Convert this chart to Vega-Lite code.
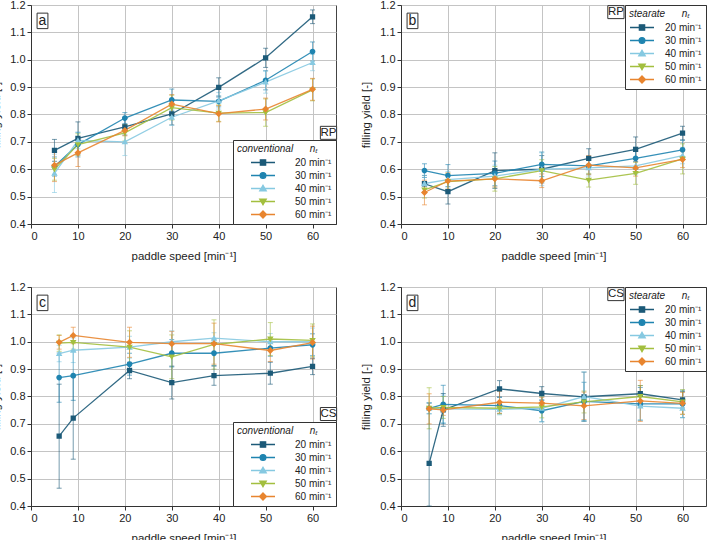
{
 "$schema": "https://vega.github.io/schema/vega-lite/v6.json",
 "padding": {"left": -10, "top": -2, "right": 0, "bottom": 0},
 "datasets": {
  "d": [
   {"p":"a","n":"20","x":5,"y":0.669,"e":0.04},{"p":"a","n":"20","x":10,"y":0.713,"e":0.06},{"p":"a","n":"20","x":20,"y":0.755,"e":0.03},{"p":"a","n":"20","x":30,"y":0.802,"e":0.04},{"p":"a","n":"20","x":40,"y":0.899,"e":0.035},{"p":"a","n":"20","x":50,"y":1.007,"e":0.035},{"p":"a","n":"20","x":60,"y":1.157,"e":0.025},
   {"p":"a","n":"30","x":5,"y":0.61,"e":0.035},{"p":"a","n":"30","x":10,"y":0.69,"e":0.045},{"p":"a","n":"30","x":20,"y":0.787,"e":0.02},{"p":"a","n":"30","x":30,"y":0.853,"e":0.04},{"p":"a","n":"30","x":40,"y":0.848,"e":0.02},{"p":"a","n":"30","x":50,"y":0.925,"e":0.035},{"p":"a","n":"30","x":60,"y":1.03,"e":0.035},
   {"p":"a","n":"40","x":5,"y":0.585,"e":0.07},{"p":"a","n":"40","x":10,"y":0.705,"e":0.03},{"p":"a","n":"40","x":20,"y":0.70,"e":0.05},{"p":"a","n":"40","x":30,"y":0.79,"e":0.03},{"p":"a","n":"40","x":40,"y":0.85,"e":0.03},{"p":"a","n":"40","x":50,"y":0.918,"e":0.04},{"p":"a","n":"40","x":60,"y":0.99,"e":0.03},
   {"p":"a","n":"50","x":5,"y":0.60,"e":0.04},{"p":"a","n":"50","x":10,"y":0.69,"e":0.04},{"p":"a","n":"50","x":20,"y":0.733,"e":0.03},{"p":"a","n":"50","x":30,"y":0.825,"e":0.045},{"p":"a","n":"50","x":40,"y":0.805,"e":0.03},{"p":"a","n":"50","x":50,"y":0.807,"e":0.05},{"p":"a","n":"50","x":60,"y":0.89,"e":0.04},
   {"p":"a","n":"60","x":5,"y":0.615,"e":0.06},{"p":"a","n":"60","x":10,"y":0.66,"e":0.05},{"p":"a","n":"60","x":20,"y":0.742,"e":0.02},{"p":"a","n":"60","x":30,"y":0.838,"e":0.035},{"p":"a","n":"60","x":40,"y":0.803,"e":0.03},{"p":"a","n":"60","x":50,"y":0.82,"e":0.04},{"p":"a","n":"60","x":60,"y":0.892,"e":0.04},

   {"p":"b","n":"20","x":5,"y":0.547,"e":0.03},{"p":"b","n":"20","x":10,"y":0.518,"e":0.045},{"p":"b","n":"20","x":20,"y":0.595,"e":0.065},{"p":"b","n":"20","x":30,"y":0.60,"e":0.05},{"p":"b","n":"20","x":40,"y":0.64,"e":0.035},{"p":"b","n":"20","x":50,"y":0.673,"e":0.045},{"p":"b","n":"20","x":60,"y":0.732,"e":0.025},
   {"p":"b","n":"30","x":5,"y":0.595,"e":0.025},{"p":"b","n":"30","x":10,"y":0.577,"e":0.04},{"p":"b","n":"30","x":20,"y":0.585,"e":0.045},{"p":"b","n":"30","x":30,"y":0.618,"e":0.045},{"p":"b","n":"30","x":40,"y":0.612,"e":0.03},{"p":"b","n":"30","x":50,"y":0.64,"e":0.04},{"p":"b","n":"30","x":60,"y":0.671,"e":0.035},
   {"p":"b","n":"40","x":5,"y":0.548,"e":0.03},{"p":"b","n":"40","x":10,"y":0.562,"e":0.03},{"p":"b","n":"40","x":20,"y":0.575,"e":0.04},{"p":"b","n":"40","x":30,"y":0.60,"e":0.06},{"p":"b","n":"40","x":40,"y":0.605,"e":0.03},{"p":"b","n":"40","x":50,"y":0.612,"e":0.03},{"p":"b","n":"40","x":60,"y":0.65,"e":0.03},
   {"p":"b","n":"50","x":5,"y":0.525,"e":0.03},{"p":"b","n":"50","x":10,"y":0.555,"e":0.03},{"p":"b","n":"50","x":20,"y":0.565,"e":0.045},{"p":"b","n":"50","x":30,"y":0.595,"e":0.04},{"p":"b","n":"50","x":40,"y":0.56,"e":0.025},{"p":"b","n":"50","x":50,"y":0.585,"e":0.04},{"p":"b","n":"50","x":60,"y":0.638,"e":0.055},
   {"p":"b","n":"60","x":5,"y":0.515,"e":0.045},{"p":"b","n":"60","x":10,"y":0.557,"e":0.03},{"p":"b","n":"60","x":20,"y":0.565,"e":0.03},{"p":"b","n":"60","x":30,"y":0.558,"e":0.025},{"p":"b","n":"60","x":40,"y":0.615,"e":0.035},{"p":"b","n":"60","x":50,"y":0.605,"e":0.03},{"p":"b","n":"60","x":60,"y":0.636,"e":0.03},

   {"p":"c","n":"20","x":6,"y":0.655,"e":0.19},{"p":"c","n":"20","x":9,"y":0.721,"e":0.15},{"p":"c","n":"20","x":21,"y":0.895,"e":0.03},{"p":"c","n":"20","x":30,"y":0.851,"e":0.06},{"p":"c","n":"20","x":39,"y":0.876,"e":0.035},{"p":"c","n":"20","x":51,"y":0.885,"e":0.04},{"p":"c","n":"20","x":60,"y":0.91,"e":0.03},
   {"p":"c","n":"30","x":6,"y":0.869,"e":0.09},{"p":"c","n":"30","x":9,"y":0.876,"e":0.09},{"p":"c","n":"30","x":21,"y":0.918,"e":0.04},{"p":"c","n":"30","x":30,"y":0.958,"e":0.05},{"p":"c","n":"30","x":39,"y":0.958,"e":0.045},{"p":"c","n":"30","x":51,"y":0.977,"e":0.03},{"p":"c","n":"30","x":60,"y":0.989,"e":0.04},
   {"p":"c","n":"40","x":6,"y":0.957,"e":0.03},{"p":"c","n":"40","x":9,"y":0.969,"e":0.045},{"p":"c","n":"40","x":21,"y":0.98,"e":0.04},{"p":"c","n":"40","x":30,"y":1.0,"e":0.04},{"p":"c","n":"40","x":39,"y":1.013,"e":0.02},{"p":"c","n":"40","x":51,"y":1.0,"e":0.03},{"p":"c","n":"40","x":60,"y":1.0,"e":0.05},
   {"p":"c","n":"50","x":6,"y":0.995,"e":0.03},{"p":"c","n":"50","x":9,"y":0.998,"e":0.025},{"p":"c","n":"50","x":21,"y":0.98,"e":0.06},{"p":"c","n":"50","x":30,"y":0.945,"e":0.08},{"p":"c","n":"50","x":39,"y":0.99,"e":0.09},{"p":"c","n":"50","x":51,"y":1.01,"e":0.06},{"p":"c","n":"50","x":60,"y":1.005,"e":0.06},
   {"p":"c","n":"60","x":6,"y":0.998,"e":0.025},{"p":"c","n":"60","x":9,"y":1.023,"e":0.03},{"p":"c","n":"60","x":21,"y":0.998,"e":0.055},{"p":"c","n":"60","x":30,"y":0.993,"e":0.045},{"p":"c","n":"60","x":39,"y":0.993,"e":0.075},{"p":"c","n":"60","x":51,"y":0.968,"e":0.04},{"p":"c","n":"60","x":60,"y":0.997,"e":0.06},

   {"p":"d","n":"20","x":6,"y":0.556,"e":0.22},{"p":"d","n":"20","x":9,"y":0.751,"e":0.06},{"p":"d","n":"20","x":21,"y":0.828,"e":0.03},{"p":"d","n":"20","x":30,"y":0.811,"e":0.025},{"p":"d","n":"20","x":39,"y":0.799,"e":0.09},{"p":"d","n":"20","x":51,"y":0.81,"e":0.03},{"p":"d","n":"20","x":60,"y":0.788,"e":0.03},
   {"p":"d","n":"30","x":6,"y":0.757,"e":0.02},{"p":"d","n":"30","x":9,"y":0.771,"e":0.07},{"p":"d","n":"30","x":21,"y":0.767,"e":0.03},{"p":"d","n":"30","x":30,"y":0.748,"e":0.04},{"p":"d","n":"30","x":39,"y":0.782,"e":0.07},{"p":"d","n":"30","x":51,"y":0.773,"e":0.06},{"p":"d","n":"30","x":60,"y":0.773,"e":0.05},
   {"p":"d","n":"40","x":6,"y":0.757,"e":0.02},{"p":"d","n":"40","x":9,"y":0.755,"e":0.05},{"p":"d","n":"40","x":21,"y":0.753,"e":0.02},{"p":"d","n":"40","x":30,"y":0.757,"e":0.05},{"p":"d","n":"40","x":39,"y":0.80,"e":0.09},{"p":"d","n":"40","x":51,"y":0.765,"e":0.05},{"p":"d","n":"40","x":60,"y":0.757,"e":0.035},
   {"p":"d","n":"50","x":6,"y":0.757,"e":0.075},{"p":"d","n":"50","x":9,"y":0.76,"e":0.04},{"p":"d","n":"50","x":21,"y":0.757,"e":0.02},{"p":"d","n":"50","x":30,"y":0.762,"e":0.04},{"p":"d","n":"50","x":39,"y":0.78,"e":0.04},{"p":"d","n":"50","x":51,"y":0.80,"e":0.04},{"p":"d","n":"50","x":60,"y":0.78,"e":0.045},
   {"p":"d","n":"60","x":6,"y":0.755,"e":0.055},{"p":"d","n":"60","x":9,"y":0.751,"e":0.02},{"p":"d","n":"60","x":21,"y":0.779,"e":0.04},{"p":"d","n":"60","x":30,"y":0.776,"e":0.02},{"p":"d","n":"60","x":39,"y":0.766,"e":0.05},{"p":"d","n":"60","x":51,"y":0.784,"e":0.075},{"p":"d","n":"60","x":60,"y":0.775,"e":0.04}
  ],
  "notes": [
   {"p":"a","t":"a","k":"panel","x":2.45,"y":1.142},{"p":"a","t":"RP","k":"tag","x":63.4,"y":0.733},
   {"p":"b","t":"b","k":"panel","x":2.45,"y":1.142},{"p":"b","t":"RP","k":"tag","x":45.8,"y":1.174},
   {"p":"c","t":"c","k":"panel","x":2.45,"y":1.142},{"p":"c","t":"CS","k":"tag","x":63.4,"y":0.736},
   {"p":"d","t":"d","k":"panel","x":2.45,"y":1.142},{"p":"d","t":"CS","k":"tag","x":45.8,"y":1.174}
  ]
 },
 "data": {"name": "d"},
 "columns": 2,
 "spacing": {"row": 63, "column": 65},
 "bounds": "flush",
 "resolve": {"scale": {"color": "independent", "shape": "independent"}},
 "concat": [
  {
   "width": 305, "height": 219,
   "transform": [{"filter": "datum.p === 'a'"}],
   "resolve": {"axis": {"x": "independent", "y": "independent"}},
   "layer": [
    {"mark": {"type": "errorbar", "ticks": {"size": 5}, "opacity": 0.6, "thickness": 1},
     "encoding": {
      "x": {"field": "x", "type": "quantitative", "scale": {"domain": [0, 65], "nice": false}, "axis": {"values": [0,10,20,30,40,50,60], "format": "d", "title": "paddle speed [min⁻¹]"}},
      "y": {"field": "y", "type": "quantitative", "scale": {"domain": [0.4, 1.2], "nice": false, "zero": false, "clamp": true}, "axis": {"values": [0.4,0.5,0.6,0.7,0.8,0.9,1.0,1.1,1.2], "format": ".1f", "title": "filling yield [-]"}},
      "yError": {"field": "e"},
      "color": {"field": "n", "type": "nominal", "scale": {"domain": ["20","30","40","50","60"], "range": ["#1c5a78","#1f84b0","#86c9e1","#a3bf3f","#e8852f"]},
       "legend": {"title": "conventional\u00a0\u00a0\u00a0\u00a0\u00a0\u00a0nₜ", "orient": "bottom-right", "symbolOffset": 13, "labelOffset": 19, "labelExpr": "datum.label + ' min⁻¹'"}}
     }},
    {"mark": {"type": "line", "strokeWidth": 1.3, "opacity": 0.9},
     "encoding": {
      "x": {"field": "x", "type": "quantitative", "axis": {"orient": "top", "values": [5,15,25,35,45,55,65], "labels": false, "ticks": false, "domain": false, "title": null, "gridDash": [1,2], "gridColor": "#b8b8b8"}},
      "y": {"field": "y", "type": "quantitative", "axis": {"orient": "right", "values": [0.45,0.55,0.65,0.75,0.85,0.95,1.05,1.15], "labels": false, "ticks": false, "domain": false, "title": null, "gridDash": [1,2], "gridColor": "#b8b8b8"}},
      "color": {"field": "n", "type": "nominal"}
     }},
    {"mark": {"type": "point", "filled": true, "size": 576, "opacity": 1},
     "encoding": {"x": {"field": "x", "type": "quantitative", "axis": null}, "y": {"field": "y", "type": "quantitative", "axis": null},
      "color": {"field": "n", "type": "nominal"},
      "shape": {"field": "n", "type": "nominal", "scale": {"domain": ["20","30","40","50","60"], "range": ["M-1,0H1M-0.22,-0.22H0.22V0.22H-0.22Z","M-1,0H1M0.24,0A0.24,0.24 0 1,1 -0.24,0A0.24,0.24 0 1,1 0.24,0Z","M-1,0H1M0,-0.27L0.27,0.2H-0.27Z","M-1,0H1M0,0.27L0.27,-0.2H-0.27Z","M-1,0H1M0,-0.29L0.29,0L0,0.29L-0.29,0Z"]},
       "legend": {"title": "conventional\u00a0\u00a0\u00a0\u00a0\u00a0\u00a0nₜ", "orient": "bottom-right", "symbolOffset": 13, "labelOffset": 19, "labelExpr": "datum.label + ' min⁻¹'"}}}},
    {"data": {"name": "notes"}, "transform": [{"filter": "datum.p === 'a' && datum.k === 'panel'"}],
     "mark": {"type": "point", "shape": "M-0.7,-1H0.7V1H-0.7Z", "size": 240, "filled": true, "opacity": 1, "fill": "white", "stroke": "#333", "strokeWidth": 1},
     "encoding": {"x": {"field": "x", "type": "quantitative", "axis": null}, "y": {"field": "y", "type": "quantitative", "axis": null}}},
    {"data": {"name": "notes"}, "transform": [{"filter": "datum.p === 'a' && datum.k === 'panel'"}],
     "mark": {"type": "text", "fontSize": 14, "color": "#222", "baseline": "middle"},
     "encoding": {"x": {"field": "x", "type": "quantitative", "axis": null}, "y": {"field": "y", "type": "quantitative", "axis": null}, "text": {"field": "t"}}},
    {"data": {"name": "notes"}, "transform": [{"filter": "datum.p === 'a' && datum.k === 'tag'"}],
     "mark": {"type": "point", "shape": "M-1.25,-1H1.25V1H-1.25Z", "size": 169, "filled": true, "opacity": 1, "fill": "white", "stroke": "#333", "strokeWidth": 1},
     "encoding": {"x": {"field": "x", "type": "quantitative", "axis": null}, "y": {"field": "y", "type": "quantitative", "axis": null}}},
    {"data": {"name": "notes"}, "transform": [{"filter": "datum.p === 'a' && datum.k === 'tag'"}],
     "mark": {"type": "text", "fontSize": 11.5, "color": "#222", "baseline": "middle"},
     "encoding": {"x": {"field": "x", "type": "quantitative", "axis": null}, "y": {"field": "y", "type": "quantitative", "axis": null}, "text": {"field": "t"}}}
   ]
  },
  {
   "width": 305, "height": 219,
   "transform": [{"filter": "datum.p === 'b'"}],
   "resolve": {"axis": {"x": "independent", "y": "independent"}},
   "layer": [
    {"mark": {"type": "errorbar", "ticks": {"size": 5}, "opacity": 0.6, "thickness": 1},
     "encoding": {
      "x": {"field": "x", "type": "quantitative", "scale": {"domain": [0, 65], "nice": false}, "axis": {"values": [0,10,20,30,40,50,60], "format": "d", "title": "paddle speed [min⁻¹]"}},
      "y": {"field": "y", "type": "quantitative", "scale": {"domain": [0.4, 1.2], "nice": false, "zero": false, "clamp": true}, "axis": {"values": [0.4,0.5,0.6,0.7,0.8,0.9,1.0,1.1,1.2], "format": ".1f", "title": "filling yield [-]"}},
      "yError": {"field": "e"},
      "color": {"field": "n", "type": "nominal", "scale": {"domain": ["20","30","40","50","60"], "range": ["#1c5a78","#1f84b0","#86c9e1","#a3bf3f","#e8852f"]},
       "legend": {"title": "stearate\u00a0\u00a0\u00a0\u00a0\u00a0\u00a0nₜ", "orient": "top-right", "symbolOffset": 0, "labelOffset": 10, "labelExpr": "datum.label + ' min⁻¹'"}}
     }},
    {"mark": {"type": "line", "strokeWidth": 1.3, "opacity": 0.9},
     "encoding": {
      "x": {"field": "x", "type": "quantitative", "axis": {"orient": "top", "values": [5,15,25,35,45,55,65], "labels": false, "ticks": false, "domain": false, "title": null, "gridDash": [1,2], "gridColor": "#b8b8b8"}},
      "y": {"field": "y", "type": "quantitative", "axis": {"orient": "right", "values": [0.45,0.55,0.65,0.75,0.85,0.95,1.05,1.15], "labels": false, "ticks": false, "domain": false, "title": null, "gridDash": [1,2], "gridColor": "#b8b8b8"}},
      "color": {"field": "n", "type": "nominal"}
     }},
    {"mark": {"type": "point", "filled": true, "size": 576, "opacity": 1},
     "encoding": {"x": {"field": "x", "type": "quantitative", "axis": null}, "y": {"field": "y", "type": "quantitative", "axis": null},
      "color": {"field": "n", "type": "nominal"},
      "shape": {"field": "n", "type": "nominal", "scale": {"domain": ["20","30","40","50","60"], "range": ["M-1,0H1M-0.22,-0.22H0.22V0.22H-0.22Z","M-1,0H1M0.24,0A0.24,0.24 0 1,1 -0.24,0A0.24,0.24 0 1,1 0.24,0Z","M-1,0H1M0,-0.27L0.27,0.2H-0.27Z","M-1,0H1M0,0.27L0.27,-0.2H-0.27Z","M-1,0H1M0,-0.29L0.29,0L0,0.29L-0.29,0Z"]},
       "legend": {"title": "stearate\u00a0\u00a0\u00a0\u00a0\u00a0\u00a0nₜ", "orient": "top-right", "symbolOffset": 0, "labelOffset": 10, "labelExpr": "datum.label + ' min⁻¹'"}}}},
    {"data": {"name": "notes"}, "transform": [{"filter": "datum.p === 'b' && datum.k === 'panel'"}],
     "mark": {"type": "point", "shape": "M-0.7,-1H0.7V1H-0.7Z", "size": 240, "filled": true, "opacity": 1, "fill": "white", "stroke": "#333", "strokeWidth": 1},
     "encoding": {"x": {"field": "x", "type": "quantitative", "axis": null}, "y": {"field": "y", "type": "quantitative", "axis": null}}},
    {"data": {"name": "notes"}, "transform": [{"filter": "datum.p === 'b' && datum.k === 'panel'"}],
     "mark": {"type": "text", "fontSize": 14, "color": "#222", "baseline": "middle"},
     "encoding": {"x": {"field": "x", "type": "quantitative", "axis": null}, "y": {"field": "y", "type": "quantitative", "axis": null}, "text": {"field": "t"}}},
    {"data": {"name": "notes"}, "transform": [{"filter": "datum.p === 'b' && datum.k === 'tag'"}],
     "mark": {"type": "point", "shape": "M-1.25,-1H1.25V1H-1.25Z", "size": 169, "filled": true, "opacity": 1, "fill": "white", "stroke": "#333", "strokeWidth": 1},
     "encoding": {"x": {"field": "x", "type": "quantitative", "axis": null}, "y": {"field": "y", "type": "quantitative", "axis": null}}},
    {"data": {"name": "notes"}, "transform": [{"filter": "datum.p === 'b' && datum.k === 'tag'"}],
     "mark": {"type": "text", "fontSize": 11.5, "color": "#222", "baseline": "middle"},
     "encoding": {"x": {"field": "x", "type": "quantitative", "axis": null}, "y": {"field": "y", "type": "quantitative", "axis": null}, "text": {"field": "t"}}}
   ]
  },
  {
   "width": 305, "height": 219,
   "transform": [{"filter": "datum.p === 'c'"}],
   "resolve": {"axis": {"x": "independent", "y": "independent"}},
   "layer": [
    {"mark": {"type": "errorbar", "ticks": {"size": 5}, "opacity": 0.6, "thickness": 1},
     "encoding": {
      "x": {"field": "x", "type": "quantitative", "scale": {"domain": [0, 65], "nice": false}, "axis": {"values": [0,10,20,30,40,50,60], "format": "d", "title": "paddle speed [min⁻¹]"}},
      "y": {"field": "y", "type": "quantitative", "scale": {"domain": [0.4, 1.2], "nice": false, "zero": false, "clamp": true}, "axis": {"values": [0.4,0.5,0.6,0.7,0.8,0.9,1.0,1.1,1.2], "format": ".1f", "title": "filling yield [-]"}},
      "yError": {"field": "e"},
      "color": {"field": "n", "type": "nominal", "scale": {"domain": ["20","30","40","50","60"], "range": ["#1c5a78","#1f84b0","#86c9e1","#a3bf3f","#e8852f"]},
       "legend": {"title": "conventional\u00a0\u00a0\u00a0\u00a0\u00a0\u00a0nₜ", "orient": "bottom-right", "symbolOffset": 13, "labelOffset": 19, "labelExpr": "datum.label + ' min⁻¹'"}}
     }},
    {"mark": {"type": "line", "strokeWidth": 1.3, "opacity": 0.9},
     "encoding": {
      "x": {"field": "x", "type": "quantitative", "axis": {"orient": "top", "values": [5,15,25,35,45,55,65], "labels": false, "ticks": false, "domain": false, "title": null, "gridDash": [1,2], "gridColor": "#b8b8b8"}},
      "y": {"field": "y", "type": "quantitative", "axis": {"orient": "right", "values": [0.45,0.55,0.65,0.75,0.85,0.95,1.05,1.15], "labels": false, "ticks": false, "domain": false, "title": null, "gridDash": [1,2], "gridColor": "#b8b8b8"}},
      "color": {"field": "n", "type": "nominal"}
     }},
    {"mark": {"type": "point", "filled": true, "size": 576, "opacity": 1},
     "encoding": {"x": {"field": "x", "type": "quantitative", "axis": null}, "y": {"field": "y", "type": "quantitative", "axis": null},
      "color": {"field": "n", "type": "nominal"},
      "shape": {"field": "n", "type": "nominal", "scale": {"domain": ["20","30","40","50","60"], "range": ["M-1,0H1M-0.22,-0.22H0.22V0.22H-0.22Z","M-1,0H1M0.24,0A0.24,0.24 0 1,1 -0.24,0A0.24,0.24 0 1,1 0.24,0Z","M-1,0H1M0,-0.27L0.27,0.2H-0.27Z","M-1,0H1M0,0.27L0.27,-0.2H-0.27Z","M-1,0H1M0,-0.29L0.29,0L0,0.29L-0.29,0Z"]},
       "legend": {"title": "conventional\u00a0\u00a0\u00a0\u00a0\u00a0\u00a0nₜ", "orient": "bottom-right", "symbolOffset": 13, "labelOffset": 19, "labelExpr": "datum.label + ' min⁻¹'"}}}},
    {"data": {"name": "notes"}, "transform": [{"filter": "datum.p === 'c' && datum.k === 'panel'"}],
     "mark": {"type": "point", "shape": "M-0.7,-1H0.7V1H-0.7Z", "size": 240, "filled": true, "opacity": 1, "fill": "white", "stroke": "#333", "strokeWidth": 1},
     "encoding": {"x": {"field": "x", "type": "quantitative", "axis": null}, "y": {"field": "y", "type": "quantitative", "axis": null}}},
    {"data": {"name": "notes"}, "transform": [{"filter": "datum.p === 'c' && datum.k === 'panel'"}],
     "mark": {"type": "text", "fontSize": 14, "color": "#222", "baseline": "middle"},
     "encoding": {"x": {"field": "x", "type": "quantitative", "axis": null}, "y": {"field": "y", "type": "quantitative", "axis": null}, "text": {"field": "t"}}},
    {"data": {"name": "notes"}, "transform": [{"filter": "datum.p === 'c' && datum.k === 'tag'"}],
     "mark": {"type": "point", "shape": "M-1.25,-1H1.25V1H-1.25Z", "size": 169, "filled": true, "opacity": 1, "fill": "white", "stroke": "#333", "strokeWidth": 1},
     "encoding": {"x": {"field": "x", "type": "quantitative", "axis": null}, "y": {"field": "y", "type": "quantitative", "axis": null}}},
    {"data": {"name": "notes"}, "transform": [{"filter": "datum.p === 'c' && datum.k === 'tag'"}],
     "mark": {"type": "text", "fontSize": 11.5, "color": "#222", "baseline": "middle"},
     "encoding": {"x": {"field": "x", "type": "quantitative", "axis": null}, "y": {"field": "y", "type": "quantitative", "axis": null}, "text": {"field": "t"}}}
   ]
  },
  {
   "width": 305, "height": 219,
   "transform": [{"filter": "datum.p === 'd'"}],
   "resolve": {"axis": {"x": "independent", "y": "independent"}},
   "layer": [
    {"mark": {"type": "errorbar", "ticks": {"size": 5}, "opacity": 0.6, "thickness": 1},
     "encoding": {
      "x": {"field": "x", "type": "quantitative", "scale": {"domain": [0, 65], "nice": false}, "axis": {"values": [0,10,20,30,40,50,60], "format": "d", "title": "paddle speed [min⁻¹]"}},
      "y": {"field": "y", "type": "quantitative", "scale": {"domain": [0.4, 1.2], "nice": false, "zero": false, "clamp": true}, "axis": {"values": [0.4,0.5,0.6,0.7,0.8,0.9,1.0,1.1,1.2], "format": ".1f", "title": "filling yield [-]"}},
      "yError": {"field": "e"},
      "color": {"field": "n", "type": "nominal", "scale": {"domain": ["20","30","40","50","60"], "range": ["#1c5a78","#1f84b0","#86c9e1","#a3bf3f","#e8852f"]},
       "legend": {"title": "stearate\u00a0\u00a0\u00a0\u00a0\u00a0\u00a0nₜ", "orient": "top-right", "symbolOffset": 0, "labelOffset": 10, "labelExpr": "datum.label + ' min⁻¹'"}}
     }},
    {"mark": {"type": "line", "strokeWidth": 1.3, "opacity": 0.9},
     "encoding": {
      "x": {"field": "x", "type": "quantitative", "axis": {"orient": "top", "values": [5,15,25,35,45,55,65], "labels": false, "ticks": false, "domain": false, "title": null, "gridDash": [1,2], "gridColor": "#b8b8b8"}},
      "y": {"field": "y", "type": "quantitative", "axis": {"orient": "right", "values": [0.45,0.55,0.65,0.75,0.85,0.95,1.05,1.15], "labels": false, "ticks": false, "domain": false, "title": null, "gridDash": [1,2], "gridColor": "#b8b8b8"}},
      "color": {"field": "n", "type": "nominal"}
     }},
    {"mark": {"type": "point", "filled": true, "size": 576, "opacity": 1},
     "encoding": {"x": {"field": "x", "type": "quantitative", "axis": null}, "y": {"field": "y", "type": "quantitative", "axis": null},
      "color": {"field": "n", "type": "nominal"},
      "shape": {"field": "n", "type": "nominal", "scale": {"domain": ["20","30","40","50","60"], "range": ["M-1,0H1M-0.22,-0.22H0.22V0.22H-0.22Z","M-1,0H1M0.24,0A0.24,0.24 0 1,1 -0.24,0A0.24,0.24 0 1,1 0.24,0Z","M-1,0H1M0,-0.27L0.27,0.2H-0.27Z","M-1,0H1M0,0.27L0.27,-0.2H-0.27Z","M-1,0H1M0,-0.29L0.29,0L0,0.29L-0.29,0Z"]},
       "legend": {"title": "stearate\u00a0\u00a0\u00a0\u00a0\u00a0\u00a0nₜ", "orient": "top-right", "symbolOffset": 0, "labelOffset": 10, "labelExpr": "datum.label + ' min⁻¹'"}}}},
    {"data": {"name": "notes"}, "transform": [{"filter": "datum.p === 'd' && datum.k === 'panel'"}],
     "mark": {"type": "point", "shape": "M-0.7,-1H0.7V1H-0.7Z", "size": 240, "filled": true, "opacity": 1, "fill": "white", "stroke": "#333", "strokeWidth": 1},
     "encoding": {"x": {"field": "x", "type": "quantitative", "axis": null}, "y": {"field": "y", "type": "quantitative", "axis": null}}},
    {"data": {"name": "notes"}, "transform": [{"filter": "datum.p === 'd' && datum.k === 'panel'"}],
     "mark": {"type": "text", "fontSize": 14, "color": "#222", "baseline": "middle"},
     "encoding": {"x": {"field": "x", "type": "quantitative", "axis": null}, "y": {"field": "y", "type": "quantitative", "axis": null}, "text": {"field": "t"}}},
    {"data": {"name": "notes"}, "transform": [{"filter": "datum.p === 'd' && datum.k === 'tag'"}],
     "mark": {"type": "point", "shape": "M-1.25,-1H1.25V1H-1.25Z", "size": 169, "filled": true, "opacity": 1, "fill": "white", "stroke": "#333", "strokeWidth": 1},
     "encoding": {"x": {"field": "x", "type": "quantitative", "axis": null}, "y": {"field": "y", "type": "quantitative", "axis": null}}},
    {"data": {"name": "notes"}, "transform": [{"filter": "datum.p === 'd' && datum.k === 'tag'"}],
     "mark": {"type": "text", "fontSize": 11.5, "color": "#222", "baseline": "middle"},
     "encoding": {"x": {"field": "x", "type": "quantitative", "axis": null}, "y": {"field": "y", "type": "quantitative", "axis": null}, "text": {"field": "t"}}}
   ]
  }
 ],
 "config": {
  "font": "Liberation Sans",
  "view": {"stroke": "#444", "strokeWidth": 1},
  "axis": {"domainColor": "#333", "tickColor": "#333", "labelColor": "#222", "titleColor": "#222", "labelFontSize": 11, "titleFontSize": 11.5, "titleFontWeight": "normal", "gridColor": "#c4c4c4", "tickSize": 4, "labelPadding": 2},
  "axisX": {"titlePadding": 9},
  "axisY": {"titlePadding": 8},
  "legend": {"strokeColor": "#333", "fillColor": "white", "offset": 0, "padding": 4, "titleFontStyle": "italic", "titleFontWeight": "normal", "titleFontSize": 10, "titleColor": "#222", "labelFontSize": 10, "labelColor": "#222", "clipHeight": 11, "rowPadding": 2, "titlePadding": 3, "symbolSize": 576, "symbolStrokeWidth": 1.3, "symbolOpacity": 1}
 }
}
